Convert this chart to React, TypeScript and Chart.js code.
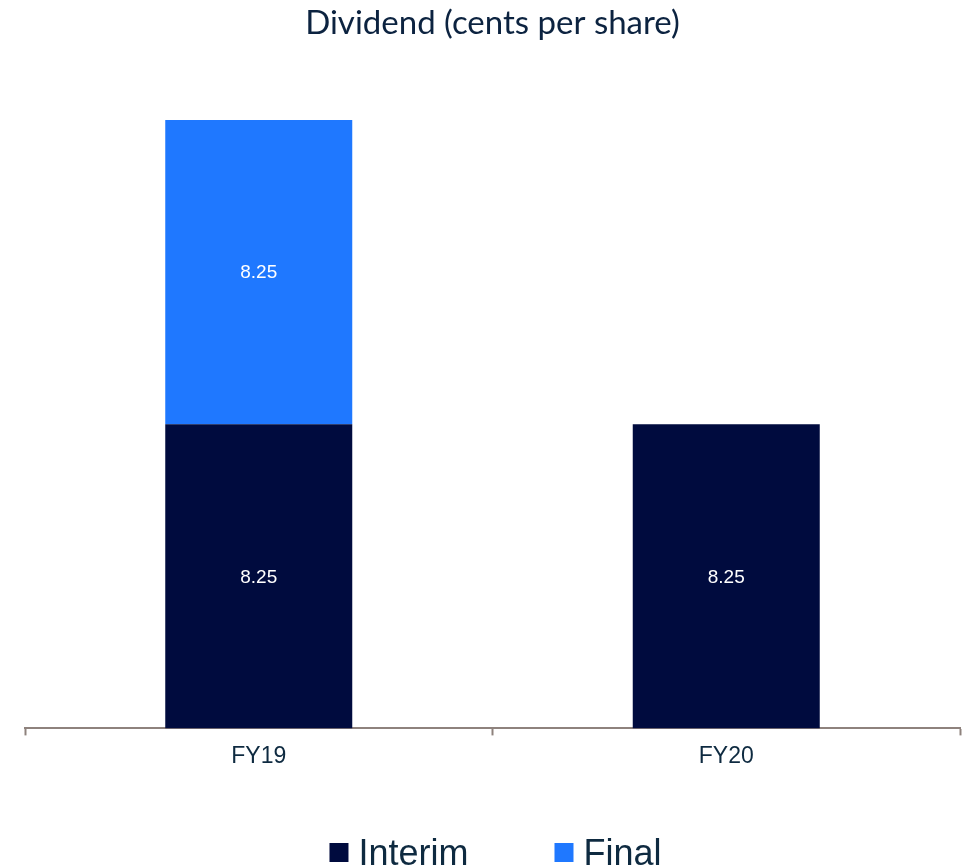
import React, { useEffect, useRef } from 'react';
import { Chart, registerables } from 'chart.js';

Chart.register(...registerables);

// ---- data ----
const categories = ['FY19', 'FY20'];
const interimValues: (number | null)[] = [8.25, 8.25];
const finalValues: (number | null)[] = [8.25, null];
const seriesNames = ['Interim', 'Final'];
const titleText = 'Dividend (cents per share)';

// ---- styles ----
const INTERIM_COLOR = '#000B3E';
const FINAL_COLOR = '#1F78FF';
const AXIS_COLOR = '#8E827D';
const TEXT_COLOR = '#0E2A40';
const TITLE_COLOR = '#0C2340';
const SANS = '"Liberation Sans", Arial, sans-serif';

const valueLabels = {
  id: 'valueLabels',
  afterDatasetsDraw(chart: any) {
    const ctx = chart.ctx;
    ctx.save();
    ctx.font = `19px ${SANS}`;
    ctx.fillStyle = '#FFFFFF';
    ctx.textAlign = 'center';
    ctx.textBaseline = 'middle';
    chart.data.datasets.forEach((ds: any, i: number) => {
      const meta = chart.getDatasetMeta(i);
      meta.data.forEach((el: any, j: number) => {
        const v = ds.data[j];
        if (v == null) return;
        const { x, y, base } = el.getProps(['x', 'y', 'base'], true);
        ctx.fillText(Number(v).toFixed(2), x, (y + base) / 2 + 1);
      });
    });
    ctx.restore();
  },
};

const customLegend = {
  id: 'customLegend',
  afterDraw(chart: any) {
    const ctx = chart.ctx;
    ctx.save();
    ctx.font = `36px ${SANS}`;
    const box = 19;
    const gapText = 10;
    const gapItem = 86;
    const items = chart.data.datasets.map((ds: any) => ({
      text: ds.label as string,
      color: ds.backgroundColor as string,
      w: ctx.measureText(ds.label).width,
    }));
    const total =
      items.reduce((s: number, it: any) => s + box + gapText + it.w, 0) +
      gapItem * (items.length - 1);
    let x = (chart.chartArea.left + chart.chartArea.right) / 2 + 3 - total / 2;
    const baseline = chart.height - 1;
    ctx.textBaseline = 'alphabetic';
    ctx.textAlign = 'left';
    items.forEach((it: any) => {
      ctx.fillStyle = it.color;
      ctx.fillRect(x, baseline - 3 - box, box, box);
      x += box + gapText;
      ctx.fillStyle = TEXT_COLOR;
      ctx.fillText(it.text, x, baseline);
      x += it.w + gapItem;
    });
    ctx.restore();
  },
};

export default function App() {
  const canvasRef = useRef<HTMLCanvasElement | null>(null);

  useEffect(() => {
    if (!canvasRef.current) return;
    const chart = new Chart(canvasRef.current, {
      type: 'bar',
      data: {
        labels: categories,
        datasets: [
          {
            label: seriesNames[0],
            data: interimValues,
            backgroundColor: INTERIM_COLOR,
            borderWidth: 0,
            barPercentage: 0.4,
            categoryPercentage: 1.0,
          },
          {
            label: seriesNames[1],
            data: finalValues,
            backgroundColor: FINAL_COLOR,
            borderWidth: 0,
            barPercentage: 0.4,
            categoryPercentage: 1.0,
          },
        ],
      },
      options: {
        responsive: false,
        animation: false,
        devicePixelRatio: 1,
        layout: { padding: { left: 25, right: 11, top: 0, bottom: 89 } },
        plugins: {
          legend: { display: false },
          tooltip: { enabled: false },
          title: {
            display: true,
            text: titleText,
            color: TITLE_COLOR,
            font: { family: 'Lato', size: 33, weight: 'normal' },
            padding: { top: 4, bottom: 21 },
          },
        },
        scales: {
          x: {
            stacked: true,
            grid: {
              display: true,
              drawOnChartArea: false,
              drawTicks: true,
              tickLength: 7,
              tickColor: AXIS_COLOR,
              tickWidth: 2,
              offset: true,
            },
            border: { display: true, color: AXIS_COLOR, width: 2 },
            ticks: {
              color: TEXT_COLOR,
              font: { family: 'Liberation Sans', size: 23 },
              padding: 7,
            },
          },
          y: {
            stacked: true,
            display: false,
            min: 0,
            max: 18,
          },
        },
      },
      plugins: [valueLabels, customLegend],
    });
    return () => chart.destroy();
  }, []);

  return (
    <div style={{ position: 'absolute', left: 0, top: 0, width: 971, height: 866, background: '#ffffff' }}>
      <canvas ref={canvasRef} width={971} height={866} style={{ display: 'block' }} />
    </div>
  );
}
